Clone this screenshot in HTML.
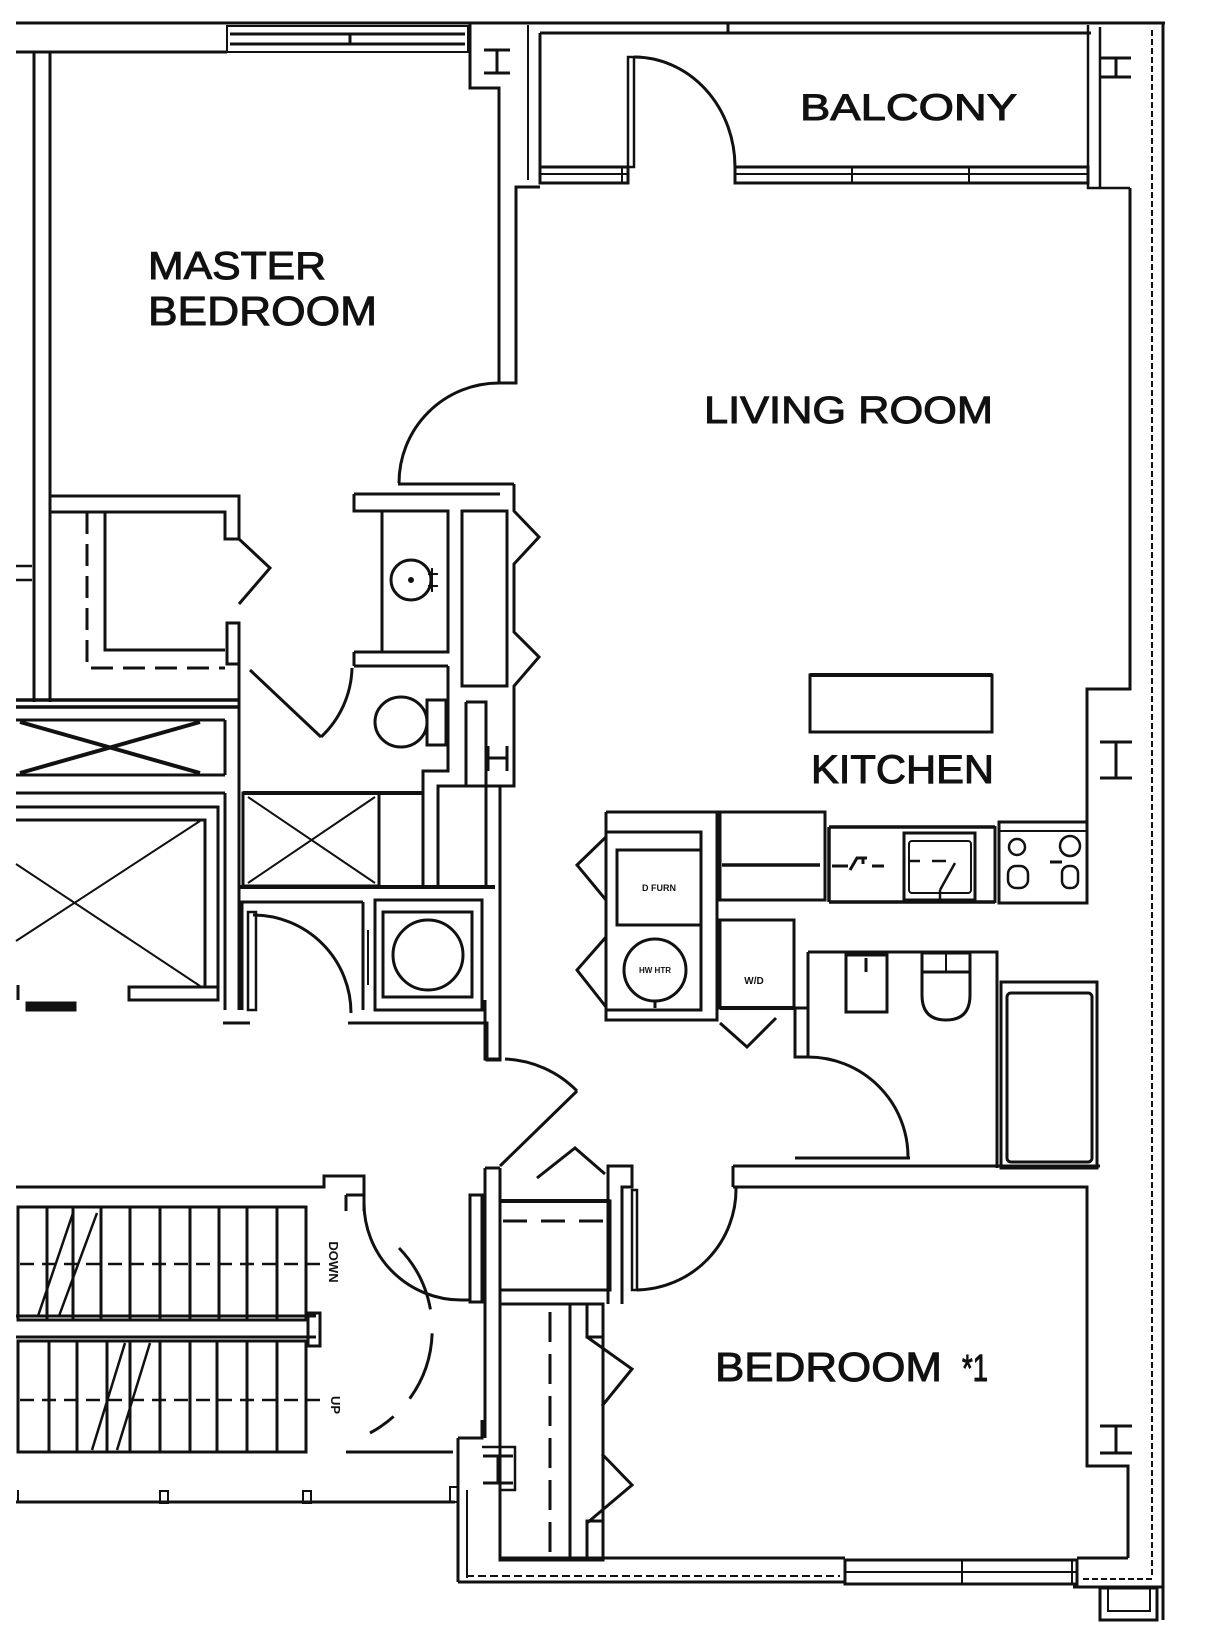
<!DOCTYPE html>
<html><head><meta charset="utf-8"><style>
html,body{margin:0;padding:0;background:#fff;}
svg{display:block;}
.lbl{font-family:"Liberation Sans",sans-serif;fill:#111;stroke:#111;stroke-width:1;}
.sm{font-family:"Liberation Sans",sans-serif;font-weight:bold;fill:#111;}
</style></head><body>
<svg width="1228" height="1636" viewBox="0 0 1228 1636" xmlns="http://www.w3.org/2000/svg">
<rect width="1228" height="1636" fill="#fff"/>
<g fill="none" stroke="#111" stroke-width="3" stroke-linejoin="miter">
<!-- top wall -->
<path d="M16,23 H1165 M16,52 H227"/>
<rect x="227" y="26" width="241" height="26" stroke-width="2"/>
<path d="M230,34 H465 M230,44 H465 M350,34 V44"/>
<path d="M470,23 V88 H499 V383 H516 V187 H540"/>
<path d="M484,50 H510 M497,50 V73 M484,73 H510"/>
<path d="M528,25 V180" stroke-width="2"/>
<path d="M540,33 V183 M540,33 H1091 M728,23 V33"/>
<rect x="540" y="167" width="88" height="16"/>
<path d="M540,174 H628 M622,167 V183" stroke-width="2"/>
<rect x="628" y="57" width="6" height="110" stroke-width="2.5"/>
<path d="M634,57 A101,110 0 0 1 735,167"/>
<rect x="735" y="167" width="353" height="16"/>
<path d="M735,174 H1088 M852,167 V183 M969,167 V183" stroke-width="2"/>
<path d="M1088,25 V188 H1130 M1100,27 V188" stroke-width="2.5"/>
<path d="M1100,58 H1131 M1116,58 V77 M1100,77 H1131"/>
<path d="M1130,188 V689 H1087 V903"/>
<path d="M1100,742 H1132 M1116,742 V778 M1100,778 H1132"/>
<path d="M1163,22 V1620"/>
<path d="M1152,30 V1575" stroke-width="2" stroke-dasharray="6 3"/>
<path d="M1083,1579 H1152" stroke-width="2" stroke-dasharray="6 3"/>

<!-- master bedroom -->
<path d="M34,52 V702 M50,52 V702"/>
<path d="M16,566 H32 M16,580 H32" stroke-width="2.5"/>
<path d="M499,383 A100,100 0 0 0 399,483"/>
<path d="M50,496 H239 V539 M50,512 H225 V539 H239"/>
<path d="M239,539 L270,568 L239,604"/>
<rect x="227" y="623" width="12" height="41"/>
<path d="M239,664 V1010"/>
<path d="M105,512 V650 H225"/>
<path d="M87,512 V668 H225" stroke-dasharray="22 10"/>

<!-- left linen / storage -->
<path d="M16,700 H239 M16,707 H239" stroke-width="3.5"/>
<path d="M16,720 H225 M16,775 H225 M225,720 V775"/>
<path d="M20,722 L200,773 M20,773 L200,722" stroke-width="4"/>
<path d="M16,793 H225 M16,807 H218 V996 M16,820 H205 V986 M225,793 V1010"/>
<path d="M16,864 L200,986 M200,821 L16,941" stroke-width="2"/>
<rect x="129" y="987" width="89" height="13"/>
<path d="M18,985 V1000" stroke-width="3"/>
<rect x="27" y="1003" width="48" height="7" fill="#111"/>

<!-- master bath -->
<path d="M398,484 H514 M354,494 H500 M354,494 V511 H448"/>
<rect x="382" y="511" width="66" height="141"/>
<circle cx="411" cy="580" r="20"/>
<circle cx="411" cy="580" r="1.5" fill="#111"/>
<path d="M432,568 V592 M428,574 H438 M428,586 H438" stroke-width="2"/>
<path d="M354,652 H448 M354,666 H448 M354,652 V666"/>
<rect x="462" y="511" width="45" height="175"/>
<path d="M514,484 V511 L539,537 L514,564 V632 L539,657 L514,686 V786 H438 V887"/>
<path d="M448,666 V771 H423 V887"/>
<ellipse cx="401" cy="722" rx="26" ry="25"/>
<rect x="427" y="700" width="19" height="45"/>
<path d="M466,702 H486 V887 M466,702 V786"/>
<path d="M488,746 V771 M507,746 V771 M488,758 H507"/>
<path d="M250,670 L321,737"/>
<path d="M321,737 A98,98 0 0 0 352,668"/>
<rect x="243" y="793" width="136" height="93"/>
<path d="M248,797 L375,883 M248,883 L375,797" stroke-width="2"/>
<path d="M243,793 H423" stroke-width="4"/>
<path d="M239,887 H495" stroke-width="4"/>
<path d="M239,902 H363 M242,902 V1010 M363,902 V1010"/>
<rect x="248" y="912" width="8" height="98" stroke-width="2.5"/>
<path d="M253,915 A98,98 0 0 1 351,1013"/>
<path d="M223,1023 H250 M348,1023 H487 V1060 H500 V786"/>
<rect x="375" y="900" width="107" height="110"/>
<rect x="383" y="912" width="89" height="85"/>
<circle cx="428" cy="955" r="35"/>
<path d="M368,930 V985" stroke-width="2"/>

<!-- entry -->
<path d="M485,1000 V1059 H500"/>
<path d="M505,1059 A107,107 0 0 1 577,1091"/>
<path d="M577,1091 L500,1166"/>
<path d="M485,1168 V1438 M500,1168 V1560 M485,1168 H500"/>
<rect x="470" y="1195" width="12" height="107"/>
<rect x="500" y="1201" width="110" height="89"/>
<path d="M500,1201 H610" stroke-width="4"/>
<path d="M503,1221 H607" stroke-dasharray="24 14"/>
<path d="M537,1178 L575,1148 L605,1174"/>
<path d="M608,1304 V1166 H632 V1187 H622 V1304"/>
<rect x="632" y="1190" width="5" height="100" stroke-width="2.5"/>
<path d="M637,1290 A101,101 0 0 0 736,1187"/>

<!-- bedroom 1 -->
<path d="M733,1166 H1100 M733,1187 H1087 V1466 H1128 V1558 M733,1166 V1187"/>
<path d="M1100,1426 H1132 M1116,1426 V1453 M1100,1453 H1132"/>
<rect x="500" y="1304" width="103" height="256"/>
<path d="M570,1304 V1560"/>
<path d="M550,1312 V1555" stroke-dasharray="30 12"/>
<path d="M587,1337 L632,1369 L602,1406 M602,1454 L632,1485 L587,1523"/>
<rect x="587" y="1304" width="16" height="33"/>
<rect x="587" y="1521" width="16" height="39"/>
<path d="M483,1456 H513 M498,1456 V1483 M483,1483 H513"/>
<path d="M482,1447 H515 V1490 H500" stroke-width="2.5"/>
<path d="M500,1558 H845 M458,1582 H845"/>
<rect x="845" y="1560" width="232" height="24"/>
<path d="M845,1572 H1077 M962,1560 V1584 M1072,1560 V1584" stroke-width="2"/>
<path d="M1077,1558 H1128 M1073,1587 H1163"/>
<path d="M466,1576 H840" stroke-width="2" stroke-dasharray="8 4"/>
<path d="M458,1438 V1582 M458,1438 H482 V1420"/>
<path d="M467,1490 V1578" stroke-width="2"/>
<rect x="1100" y="1588" width="57" height="32"/>
<path d="M1108,1588 V1611 H1150 V1588" stroke-width="2"/>

<!-- kitchen -->
<rect x="810" y="675" width="182" height="57"/>
<path d="M810,675 H992" stroke-width="4"/>
<path d="M606,812 H717 V1020 H606 V1007 L577,970 L606,937 V900 L577,865 L606,837 V812"/>
<rect x="606" y="832" width="95" height="178"/>
<rect x="617" y="850" width="84" height="75"/>
<circle cx="655" cy="970" r="31"/>
<path d="M655,1001 V1008"/>
<rect x="720" y="812" width="105" height="88"/>
<path d="M722,865 H820" stroke-width="3.5"/>
<path d="M829,827 H995 M829,902 H995 M829,827 V902" stroke-width="3.5"/>
<path d="M832,866 H848 M850,870 L857,858 L867,858 M863,858 V864 M872,866 H884" stroke-width="3"/>
<rect x="904" y="833" width="71" height="67"/>
<rect x="909" y="841" width="62" height="52" rx="3" stroke-width="2"/>
<path d="M910,861 H920 M932,861 H946 M955,863 L940,890 M940,890 V900" stroke-width="2.5"/>
<path d="M995,826 V903"/>
<rect x="999" y="822" width="88" height="81"/>
<path d="M999,831 H1087" stroke-width="2"/>
<circle cx="1017" cy="847" r="8" stroke-width="2.5"/>
<circle cx="1070" cy="846" r="10" stroke-width="2.5"/>
<rect x="1008" y="866" width="20" height="22" rx="8" stroke-width="2.5"/>
<rect x="1062" y="866" width="16" height="22" rx="7" stroke-width="2.5"/>
<path d="M1050,862 H1062" stroke-width="3"/>
<rect x="720" y="920" width="74" height="88"/>
<path d="M720,1008 H794" stroke-width="4"/>
<path d="M720,1023 L747,1047 L776,1018"/>
<rect x="795" y="1008" width="13" height="49"/>

<!-- bath 2 -->
<path d="M808,952 H997 V1168 M808,952 V1057"/>
<rect x="846" y="955" width="41" height="57"/>
<path d="M866,958 V972" stroke-width="3"/>
<rect x="922" y="953" width="48" height="19"/>
<path d="M946,953 V972" stroke-width="2"/>
<path d="M922,972 V995 Q922,1020 946,1020 Q970,1020 970,995 V972"/>
<rect x="1001" y="982" width="96" height="186"/>
<rect x="1007" y="993" width="85" height="169" rx="4"/>
<path d="M795,1158 H910"/>
<path d="M808,1057 A100,100 0 0 1 908,1157"/>

<!-- stairs -->
<path d="M16,1187 H324 V1176 H364 V1211 M346,1195 H364 M346,1195 V1211"/>
<rect x="18" y="1207" width="288" height="113"/>
<path d="M47,1207 V1320 M73,1207 V1320 M101,1207 V1320 M130,1207 V1320 M160,1207 V1320 M190,1207 V1320 M219,1207 V1320 M247,1207 V1320 M277,1207 V1320"/>
<path d="M20,1264 H324" stroke-dasharray="14 8" stroke-width="2.5"/>
<path d="M73,1213 L38,1316 M97,1213 L59,1316" stroke-width="2.5"/>
<path d="M16,1316 H316 M16,1337 H316" stroke-width="3"/>
<rect x="308" y="1313" width="12" height="33"/>
<rect x="18" y="1341" width="288" height="111"/>
<path d="M49,1341 V1452 M77,1341 V1452 M107,1341 V1452 M130,1341 V1452 M160,1341 V1452 M190,1341 V1452 M217,1341 V1452 M247,1341 V1452 M277,1341 V1452"/>
<path d="M20,1400 H324" stroke-dasharray="14 8" stroke-width="2.5"/>
<path d="M150,1343 L117,1450 M125,1343 L92,1450" stroke-width="2.5"/>
<path d="M364,1203 A97,97 0 0 0 461,1300 H470 V1195"/>
<path d="M399,1248 A117,117 0 0 1 370,1433" stroke-dasharray="70 24"/>
<path d="M346,1452 H453"/>
<path d="M16,1502 H455"/>
<rect x="450" y="1487" width="8" height="15" stroke-width="2"/>
<path d="M18,1490 V1503" stroke-width="2"/>
<rect x="160" y="1491" width="8" height="12" stroke-width="2"/>
<rect x="303" y="1491" width="8" height="12" stroke-width="2"/>
</g>

<!-- labels -->
<text class="lbl" x="148" y="279" font-size="39" textLength="178" lengthAdjust="spacingAndGlyphs">MASTER</text>
<text class="lbl" x="148" y="325" font-size="41" textLength="229" lengthAdjust="spacingAndGlyphs">BEDROOM</text>
<text class="lbl" x="800" y="120" font-size="37" textLength="217" lengthAdjust="spacingAndGlyphs">BALCONY</text>
<text class="lbl" x="704" y="423" font-size="38" textLength="289" lengthAdjust="spacingAndGlyphs">LIVING ROOM</text>
<text class="lbl" x="811" y="783" font-size="40" textLength="183" lengthAdjust="spacingAndGlyphs">KITCHEN</text>
<text class="lbl" x="715" y="1381" font-size="41" textLength="227" lengthAdjust="spacingAndGlyphs">BEDROOM</text>
<text class="lbl" x="962" y="1381" font-size="38" textLength="26" lengthAdjust="spacingAndGlyphs">*1</text>

<text class="sm" x="659" y="891" font-size="9" text-anchor="middle">D FURN</text>
<text class="sm" x="655" y="973" font-size="8" text-anchor="middle">HW HTR</text>
<text class="sm" x="754" y="984" font-size="10" text-anchor="middle">W/D</text>
<text class="sm" font-size="13" transform="translate(329,1262) rotate(90)" text-anchor="middle">DOWN</text>
<text class="sm" font-size="13" transform="translate(331,1405) rotate(90)" text-anchor="middle">UP</text>
</svg>
</body></html>
